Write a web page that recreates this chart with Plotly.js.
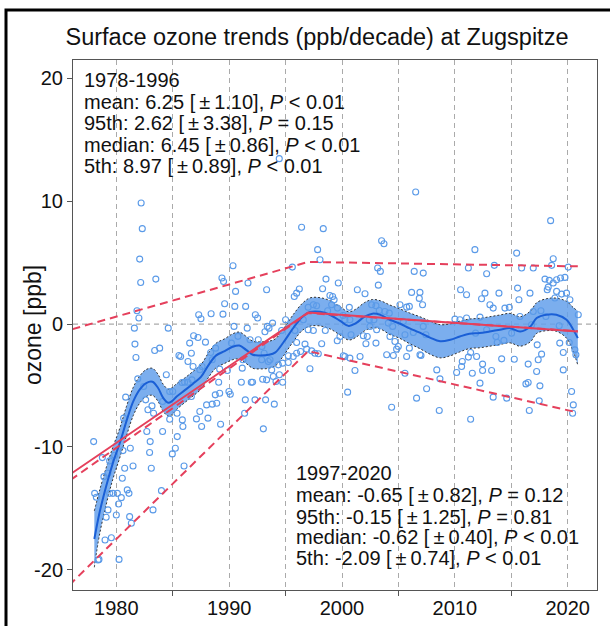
<!DOCTYPE html>
<html>
<head>
<meta charset="utf-8">
<script src="https://cdn.plot.ly/plotly-3.0.1.min.js"></script>
<style>html,body{margin:0;padding:0;background:#fff;}#chart{width:610px;height:626px;}</style>
</head>
<body>
<div id="chart"></div>
<script>
// ---- data ----
const ptYear = [
1982.2,1982.3,1982.07,1982.16,1983.5,1981.83,1982.0,1981.6,1984.6,1981.65,1981.74,1983.4,1983.84,1981.9,1980.83,1980.65,1977.99,1984.43,1982.42,1982.6,
1983.16,1982.8,1983.3,1982.7,1984.1,1983.0,1982.95,1981.24,1980.59,1978.76,1979.41,1979.85,1980.74,1981.48,1983.1,1980.53,1978.9,1979.26,1978.08,1978.23,
1979.41,1979.7,1980.09,1980.44,1980.97,1981.12,1980.2,1979.26,1979.1,1980.0,1981.18,1983.25,1984.0,1981.33,1979.0,1979.56,1978.38,1978.46,1980.24,1985.23,
1984.96,1986.0,1985.4,1984.73,1985.0,1984.1,1984.73,1985.38,1985.82,1985.55,1985.7,1986.05,1986.35,1986.35,1986.5,1986.65,1986.85,1987.24,1987.9,1986.8,
1986.7,1987.4,1987.6,1986.65,1987.1,1987.56,1987.4,1988.12,1985.9,1985.85,1988.0,1988.5,1988.9,1988.77,1989.16,1989.07,1989.24,1988.4,1987.3,1987.5,
1989.36,1989.5,1989.6,1989.45,1988.36,1988.5,1988.8,1989.16,1989.84,1989.98,1990.1,1990.34,1990.57,1990.5,1991.46,1991.67,1990.43,1990.78,1990.2,1991.6,
1991.22,1991.16,1991.08,1991.43,1991.37,1991.96,1994.44,
2006.53,1996.42,1998.34,1997.84,1998.05,2003.51,2003.72,1995.6,2003.16,2003.4,2006.4,2007.2,1993.32,1998.58,1999.67,2003.22,1996.22,1995.98,1995.77,1998.28,
1998.93,1999.17,1999.3,2001.36,2002.04,2006.17,2006.91,2006.85,2007.14,1992.32,1992.52,1993.85,1993.38,1993.53,1993.17,1994.65,1995.0,1991.85,1992.58,1992.9,
1993.1,1992.88,1993.47,1993.62,1993.77,1994.36,1994.74,1994.45,1993.91,1994.15,1993.32,1992.97,1992.08,1994.74,1992.29,1993.23,1994.0,1993.03,1995.24,1995.24,
1995.68,1995.98,1996.33,1996.72,1996.87,1997.16,1997.31,1997.6,1997.9,1998.2,1998.52,1997.46,1997.0,1996.57,1995.83,1995.98,1997.0,1997.46,1997.75,1998.73,
1999.08,1999.6,2000.1,2000.26,2000.65,2000.7,1999.58,1999.82,2000.12,2000.26,2000.7,2000.8,2001.15,2000.5,2001.6,2001.89,2002.12,2002.24,2002.48,2002.42,
2002.83,2003.07,2003.01,2002.63,2003.01,2003.3,2003.8,2004.19,2004.25,2004.1,2004.49,2004.69,2004.99,2004.84,2003.96,2004.55,2004.4,2005.14,2005.73,2005.97,
2005.43,2005.58,2005.97,2005.73,2005.58,2006.32,2006.91,2007.0,2006.61,2007.5,2007.44,2007.2,
2011.4,2008.62,2008.68,2008.4,2010.16,2010.6,2011.55,2010.66,2011.2,2011.4,2011.93,2012.46,2012.23,2012.46,2013.26,2013.4,2014.6,2014.15,2013.76,2014.35,
2013.64,2012.82,2011.84,2010.01,2010.45,2011.04,2012.23,2013.4,2014.44,2014.83,2015.77,2015.68,2013.11,2012.67,2013.91,2012.37,2011.04,2010.51,2011.78,2011.2,
2012.82,2013.5,2015.48,2015.92,2016.66,2015.56,2016.95,2018.49,2018.72,2018.58,2020.05,2017.99,2018.37,2018.72,2019.02,2019.37,2019.76,2018.28,2018.19,2019.02,
2019.46,2019.9,2020.2,2018.87,2017.63,2018.07,2016.95,2016.8,2017.3,2017.69,2017.39,2019.25,2019.61,2019.3,2020.14,2020.64,2020.73,2020.94,2019.61,2017.25,
2016.5,2015.27,2015.03,2016.3,2016.5,2017.54,2017.48,2016.6,2020.35,2020.5,2020.44
];
const ptVal = [
9.86,7.77,5.29,3.39,3.66,1.08,0.49,-0.33,-0.33,-1.63,-2.72,-2.15,-1.96,-4.46,-5.95,-7.66,-9.57,-4.13,-5.08,-6.17,
-6.66,-6.98,-7.26,-8.75,-8.75,-9.57,-10.46,-10.11,-10.3,-10.87,-11.14,-10.68,-11.74,-11.55,-11.74,-12.55,-12.42,-12.15,-13.78,-14.1,
-13.78,-13.78,-13.78,-14.13,-13.5,-13.78,-14.65,-15.13,-15.73,-15.54,-15.68,-15.13,-13.56,-16.22,-17.58,-17.39,-19.21,-19.16,-19.16,-10.11,
-10.57,-11.55,-9.16,-5.49,-5.49,-6.3,-7.75,-7.26,-4.76,-2.56,-2.64,-4.73,-4.73,-3.05,-1.55,-2.37,-0.95,-1.09,-1.47,-3.45,
-4.54,-3.72,-3.45,-5.9,-7.72,-8.34,-7.12,-7.66,-8.34,-7.8,-6.58,-6.52,-6.44,-5.76,-5.63,-4.73,-8.15,0.84,0.76,0.43,
3.75,3.47,1.65,0.81,-2.31,-2.91,-1.96,-3.67,-3.78,-5.49,-5.71,4.75,2.66,1.44,1.44,3.34,-0.19,-1.0,-1.55,-0.33,
-2.91,-3.59,-4.73,-6.17,-7.26,-4.73,13.47,
10.75,7.88,7.77,6.06,5.24,6.79,6.54,4.64,4.56,4.29,4.29,4.15,2.8,3.66,3.34,3.17,2.85,2.52,2.25,2.88,
2.33,2.25,1.98,2.8,2.47,2.58,2.58,2.09,1.57,0.76,0.49,0.08,-0.19,-0.33,-0.63,-0.52,0.35,-1.28,-1.28,-1.82,
-2.37,-2.91,-3.05,-2.91,-3.73,-3.32,-3.18,-4.13,-4.27,-4.68,-4.54,-4.49,-4.73,-4.73,-6.17,-6.17,-6.52,-8.53,-2.58,-3.13,
-2.64,-2.37,-2.23,-1.63,-2.04,-3.64,-2.18,-2.37,-2.42,-1.6,-0.52,-0.52,-0.46,0.35,-0.52,-1.5,1.36,1.57,1.49,1.08,
1.57,1.3,0.7,0.35,1.36,0.35,-1.36,-1.01,-2.58,-2.64,-2.77,-0.87,-3.78,-5.54,-2.64,-0.95,-1.6,-1.01,-0.19,0.35,
0.35,-0.46,-1.55,1.57,1.49,1.11,1.03,0.89,-1.01,0.08,-0.19,-1.42,-1.82,-2.04,-2.5,-2.56,-6.77,1.57,1.38,1.44,
0.22,-0.87,-1.96,-2.64,-4.0,-0.68,-2.5,-2.56,-6.03,-5.27,-0.87,-0.19,
-7.75,-7.04,-4.46,-3.73,-3.94,-3.45,-4.0,-3.05,-2.69,-2.31,-2.64,-3.26,-4.81,-3.78,-3.78,-5.95,-6.03,-2.83,-1.5,-1.33,
-1.01,-0.46,-0.74,0.4,0.35,0.49,0.57,1.3,1.3,1.36,0.62,1.98,1.57,2.52,2.52,2.06,2.39,2.8,6.06,4.56,
4.1,4.78,5.78,4.56,2.52,2.93,4.56,8.42,5.32,4.78,4.64,3.66,3.56,3.34,3.61,3.75,3.8,3.01,2.8,2.66,
2.44,2.52,1.98,2.12,1.08,0.62,1.03,-0.06,-1.69,-2.45,-2.91,-0.14,-2.31,-1.55,-1.5,-2.1,-2.5,0.76,-3.73,-3.86,
-3.26,-2.86,-0.74,-4.87,-4.76,-5.03,-6.25,-7.04,-5.49,-6.58,-7.26
];

// smooth fit and its confidence half-width
const smYear = [1978.05,1978.5,1979.1,1979.7,1980.3,1980.9,1981.5,1982.1,1982.65,1983.2,1983.7,1984.15,1984.6,1984.9,1985.35,1986.05,1986.8,1987.5,1988.2,1988.85,
1989.6,1990.3,1990.9,1991.5,1992.1,1992.8,1993.5,1994.1,1994.8,1995.7,1996.5,1997.16,1998.05,1998.93,1999.8,2000.6,2001.2,2002.0,2002.7,2003.4,
2004.25,2005.1,2006.0,2006.9,2007.8,2008.7,2009.6,2010.45,2011.3,2012.2,2013.1,2014.0,2014.9,2015.8,2016.7,2017.25,2018.1,2019.0,2019.9,2020.5,2020.9];
const smVal = [-17.5,-15.4,-13.2,-11.3,-9.7,-7.9,-6.3,-5.3,-4.8,-4.7,-5.2,-6.0,-6.4,-6.3,-5.9,-5.4,-4.85,-4.3,-3.3,-2.55,
-2.2,-1.85,-1.75,-2.1,-2.5,-2.55,-2.5,-2.3,-1.5,-0.3,0.6,0.98,1.0,0.76,0.28,-0.15,0.05,0.6,0.85,0.75,
0.35,0.05,-0.35,-0.7,-1.1,-1.4,-1.28,-1.01,-0.79,-0.73,-0.6,-0.46,-0.33,-0.6,-0.19,0.49,0.76,0.76,0.35,-0.46,-1.14];
const smHalf = [2.3,1.8,1.5,1.3,1.2,1.2,1.15,1.1,1.1,1.1,1.1,1.1,1.1,1.1,1.05,1.0,1.0,1.0,1.0,1.0,
1.0,1.05,1.1,1.1,1.1,1.1,1.1,1.1,1.1,1.1,1.1,1.15,1.15,1.15,1.15,1.15,1.15,1.15,1.15,1.15,
1.2,1.2,1.25,1.3,1.35,1.35,1.3,1.25,1.2,1.2,1.2,1.2,1.2,1.2,1.25,1.25,1.3,1.35,1.5,1.8,2.2];

// piecewise trend lines (start, break, end)
const trendYear = [1975.0, 1997.0, 2020.9];
const trendMean = [-12.8, 0.95, -0.6];
const trendMedian = [-13.3, 0.9, -0.58];
const trend95 = [-0.7, 5.06, 4.70];
const trend5 = [-22.0, -2.2, -7.2];

const xTicks = [1980,1990,2000,2010,2020];
const yTicks = [-20,-10,0,10,20];

const leftLines = ["1978-1996","mean: 6.25 [\u2009±\u20091.10], <i>P</i> < 0.01","95th: 2.62 [\u2009±\u20093.38], <i>P</i> = 0.15","median: 6.45 [\u2009±\u20090.86], <i>P</i> < 0.01","5th: 8.97 [\u2009±\u20090.89], <i>P</i> < 0.01"];
const rightLines = ["1997-2020","mean: -0.65 [\u2009±\u20090.82], <i>P</i> = 0.12","95th: -0.15 [\u2009±\u20091.25], <i>P</i> = 0.81","median: -0.62 [\u2009±\u20090.40], <i>P</i> < 0.01","5th: -2.09 [\u2009±\u20090.74], <i>P</i> < 0.01"];

// ---- chart ----
const FONT = "Liberation Sans, Arial, Helvetica, sans-serif";
const RED = "#e5405c";
const upper = smVal.map((v,i)=>v+smHalf[i]);
const lower = smVal.map((v,i)=>v-smHalf[i]);

const traces = [
  {x: smYear, y: lower, mode:'lines', line:{color:'#333', width:1, dash:'2px,2px', shape:'spline'}, hoverinfo:'skip', showlegend:false},
  {x: smYear, y: upper, mode:'lines', fill:'tonexty', fillcolor:'rgba(100,160,235,0.85)', line:{color:'#333', width:1, dash:'2px,2px', shape:'spline'}, hoverinfo:'skip', showlegend:false},
  {x: ptYear, y: ptVal, mode:'markers', marker:{symbol:'circle-open', size:6, color:'#5a9ae8', line:{width:1.1, color:'#5a9ae8'}}, showlegend:false},
  {x: smYear, y: smVal, mode:'lines', line:{color:'#1a5fd6', width:2, shape:'spline'}, showlegend:false},
  {x: trendYear, y: trend95, mode:'lines', line:{color:RED, width:2, dash:'8px,5px'}, showlegend:false},
  {x: trendYear, y: trend5, mode:'lines', line:{color:RED, width:2, dash:'8px,5px'}, showlegend:false},
  {x: trendYear, y: trendMedian, mode:'lines', line:{color:RED, width:2, dash:'8px,5px'}, showlegend:false},
  {x: trendYear, y: trendMean, mode:'lines', line:{color:RED, width:2}, showlegend:false}
];

const annotations = [];
const leftY = [80,101.7,123,145,166];
const rightY = [473,495,516.7,537,558];
const PT = 60, PB = 590, PL = 73, PW = 524, PH = 530;
leftLines.forEach((t,i)=>annotations.push({xref:'paper', yref:'paper', x:(82-PL)/PW, y:(PB-leftY[i])/PH, xanchor:'left', yanchor:'middle', text:t, showarrow:false, font:{family:FONT, size:20, color:'#111'}}));
rightLines.forEach((t,i)=>annotations.push({xref:'paper', yref:'paper', x:(294-PL)/PW, y:(PB-rightY[i])/PH, xanchor:'left', yanchor:'middle', text:t, showarrow:false, font:{family:FONT, size:20, color:'#111'}}));
annotations.push({xref:'paper', yref:'paper', x:(33-PL)/PW, y:0.5, xanchor:'center', yanchor:'middle', textangle:-90, text:'ozone [ppb]', showarrow:false, font:{family:FONT, size:23, color:'#111'}});

const layout = {
  width:610, height:626,
  margin:{l:PL, r:610-PL-PW, t:PT, b:626-PB},
  paper_bgcolor:'#fff', plot_bgcolor:'#fff',
  font:{family:FONT, color:'#111'},
  title:{text:'Surface ozone trends (ppb/decade) at Zugspitze', font:{family:FONT, size:23.5, color:'#111'}, x:317/610, xanchor:'center', y:1-37/626, yanchor:'middle'},
  showlegend:false,
  xaxis:{range:[1976.16,2022.6], tickvals:xTicks, ticktext:xTicks.map(String), ticks:'', showline:true, mirror:true, linecolor:'#555', linewidth:1,
    showgrid:true, gridcolor:'#aaa', griddash:'5px,4px', gridwidth:1, zeroline:false, tickfont:{family:FONT, size:20, color:'#111'},
    minor:{tick0:1985, dtick:10, ticks:'outside', ticklen:5, tickcolor:'#555', showgrid:true, gridcolor:'#aaa', griddash:'5px,4px', gridwidth:1}},
  yaxis:{range:[-21.65,21.5], tickvals:yTicks, ticktext:yTicks.map(String), ticks:'outside', ticklen:5, tickcolor:'#555', showline:true, mirror:true, linecolor:'#555', linewidth:1,
    showgrid:false, zeroline:false, tickfont:{family:FONT, size:20, color:'#111'}},
  shapes:[
    {type:'line', xref:'paper', yref:'y', x0:0, x1:1, y0:0, y1:0, layer:'below', line:{color:'#aaa', width:1.2, dash:'5px,4px'}},
    {type:'rect', xref:'paper', yref:'paper', x0:(6-PL)/PW, x1:(640-PL)/PW, y0:(PB-660)/PH, y1:(PB-10)/PH, line:{color:'#000', width:3}, fillcolor:'rgba(0,0,0,0)'}
  ],
  annotations: annotations
};
Plotly.newPlot('chart', traces, layout, {displayModeBar:false, staticPlot:true});
</script>
</body>
</html>
